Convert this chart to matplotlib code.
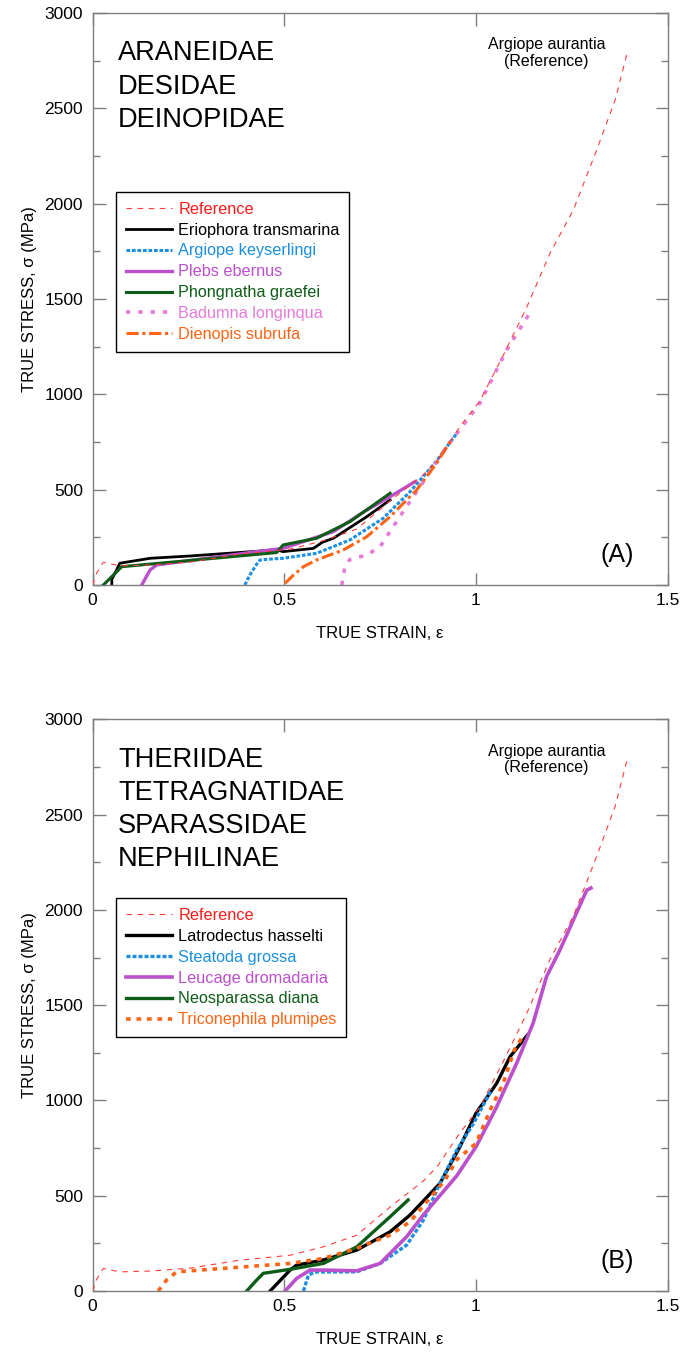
import matplotlib
matplotlib.use("Agg")
import matplotlib.pyplot as plt
from matplotlib.ticker import MultipleLocator, FixedLocator

plt.rcParams['font.family'] = ['Liberation Sans', 'DejaVu Sans']

# ---------------- data ----------------
# Reference (Argiope aurantia)
ref_x = [0.0, 0.01, 0.028, 0.06, 0.08, 0.15, 0.254, 0.384, 0.515, 0.60, 0.689, 0.776,
         0.863, 0.90, 0.958, 1.01, 1.07, 1.132, 1.193, 1.254, 1.315, 1.363, 1.396]
ref_y = [0, 60, 119, 105, 101, 105, 120, 162, 188, 231, 293, 441,
         578, 656, 830, 965, 1200, 1455, 1740, 1967, 2282, 2544, 2802]

# Panel A
erio_x = [0.05, 0.05, 0.058, 0.071, 0.15, 0.254, 0.48, 0.497, 0.576, 0.60, 0.628, 0.715, 0.776]
erio_y = [0, 30, 61, 114, 140, 152, 184, 175, 192, 225, 245, 358, 446]

akey_x = [0.397, 0.41, 0.432, 0.437, 0.457, 0.497, 0.584, 0.671, 0.758, 0.828, 0.897, 0.95]
akey_y = [0, 52, 122, 131, 135, 140, 166, 236, 350, 489, 650, 796]

plebs_x = [0.128, 0.15, 0.167, 0.463, 0.497, 0.628, 0.715, 0.776, 0.841]
plebs_y = [0, 79, 105, 184, 192, 280, 393, 463, 542]

phon_x = [0.028, 0.076, 0.48, 0.497, 0.584, 0.671, 0.776]
phon_y = [0, 96, 170, 210, 245, 332, 481]

badu_x = [0.65, 0.658, 0.671, 0.715, 0.75, 0.784, 0.819, 0.924, 1.01, 1.08, 1.132, 1.14]
badu_y = [0, 96, 134, 157, 201, 306, 411, 725, 953, 1233, 1400, 1425]

dien_x = [0.502, 0.524, 0.55, 0.584, 0.654, 0.715, 0.776, 0.845, 0.897, 0.935]
dien_y = [9, 52, 96, 131, 184, 253, 358, 498, 638, 760]

# Panel B
latro_x = [0.463, 0.515, 0.532, 0.602, 0.689, 0.776, 0.828, 0.906, 0.958, 1.0, 1.054, 1.089, 1.135]
latro_y = [0, 110, 136, 163, 215, 311, 399, 565, 757, 933, 1090, 1230, 1345]

stea_x = [0.55, 0.563, 0.58, 0.689, 0.75, 0.819, 0.863, 0.906, 0.95, 0.993, 1.041]
stea_y = [0, 84, 100, 101, 145, 241, 373, 565, 740, 877, 1058]

leuc_x = [0.502, 0.532, 0.567, 0.602, 0.689, 0.75, 0.819, 0.863, 0.95, 1.0, 1.032, 1.054, 1.106,
          1.149, 1.184, 1.219, 1.254, 1.289, 1.30]
leuc_y = [0, 66, 110, 110, 106, 145, 285, 400, 605, 757, 880, 967, 1195,
          1405, 1650, 1790, 1947, 2104, 2115]

neos_x = [0.402, 0.428, 0.445, 0.515, 0.602, 0.689, 0.776, 0.823]
neos_y = [0, 58, 93, 114, 145, 232, 390, 478]

tric_x = [0.171, 0.193, 0.219, 0.341, 0.515, 0.602, 0.689, 0.776, 0.828, 0.919, 0.95, 1.0, 1.037,
          1.071, 1.10, 1.123]
tric_y = [0, 58, 101, 119, 145, 171, 224, 294, 364, 582, 690, 775, 950,
          1090, 1265, 1340]

xticks = [0, 0.5, 1, 1.5]
xticklabels = ['0', '0.5', '1', '1.5']
yticks = [0, 500, 1000, 1500, 2000, 2500, 3000]

# ---------------- styles ----------------
RED = '#ff3b3b'
BLACK = '#000000'
BLUE = '#1a8fe3'
PURPLE = '#bb4fcc'
GREEN = '#0d5c17'
PINK = '#e57bd9'
ORANGE = '#ff6414'
GRAY = '#7f7f7f'

fig = plt.figure(figsize=(6.97, 13.56), dpi=100)
axA = fig.add_axes([0.1329, 0.5686, 0.825, 0.4218])
axB = fig.add_axes([0.1329, 0.0479, 0.825, 0.4216])


def style_axes(ax):
    ax.set_xlim(0, 1.5)
    ax.set_ylim(0, 3000)
    ax.xaxis.set_major_locator(FixedLocator(xticks))
    ax.set_xticklabels(xticklabels)
    ax.yaxis.set_major_locator(FixedLocator(yticks))
    ax.yaxis.set_minor_locator(MultipleLocator(250))
    ax.tick_params(axis='both', which='both', direction='in', top=True, right=True,
                   color=GRAY, labelsize=12.5, labelcolor='black')
    ax.tick_params(axis='y', which='major', length=9, width=1, pad=7)
    ax.tick_params(axis='y', which='minor', length=5, width=1)
    ax.tick_params(axis='x', which='major', length=9, width=1, pad=6)
    for s in ax.spines.values():
        s.set_color(GRAY)
        s.set_linewidth(1.0)
    ax.set_xlabel('TRUE STRAIN, ε', fontsize=12, labelpad=13)
    ax.set_ylabel('TRUE STRESS, σ (MPa)', fontsize=12, labelpad=5)


def ref_line(ax):
    ax.plot(ref_x, ref_y, color=RED, lw=0.8, dashes=(5, 5), label='Reference', zorder=5)
    ax.text(1.184, 2790, 'Argiope aurantia\n(Reference)', ha='center', va='center',
            fontsize=11.5, linespacing=1.1)


def add_legend(ax):
    leg = ax.legend(loc='upper left', bbox_to_anchor=(0.041, 0.687), borderaxespad=0,
                    fontsize=11.7, handlelength=2.85, handletextpad=0.37, labelspacing=0.36,
                    frameon=True, fancybox=False, framealpha=1, edgecolor='black',
                    borderpad=0.6)
    leg.get_frame().set_linewidth(1.0)
    for txt, line in zip(leg.get_texts(), leg.get_lines()):
        txt.set_color(line.get_color())
    return leg


# ---------------- panel A ----------------
style_axes(axA)
ref_line(axA)
axA.plot(erio_x, erio_y, color=BLACK, lw=2.0, label='Eriophora transmarina')
axA.plot(akey_x, akey_y, color=BLUE, lw=2.2, dashes=(1.2, 0.6), label='Argiope keyserlingi')
axA.plot(plebs_x, plebs_y, color=PURPLE, lw=2.4, label='Plebs ebernus')
axA.plot(phon_x, phon_y, color=GREEN, lw=2.2, label='Phongnatha graefei')
axA.plot(badu_x, badu_y, color=PINK, lw=2.6, dashes=(1.2, 2.2), label='Badumna longinqua')
axA.plot(dien_x, dien_y, color=ORANGE, lw=2.2, dashes=(4, 1.2, 1, 1.2), label='Dienopis subrufa')
legA = add_legend(axA)
legA.get_texts()[0].set_color('#ff1a1a')
axA.text(0.044, 0.952, 'ARANEIDAE\nDESIDAE\nDEINOPIDAE', transform=axA.transAxes,
         ha='left', va='top', fontsize=19.6, linespacing=1.36)
axA.text(1.368, 157, '(A)', ha='center', va='center', fontsize=18)

# ---------------- panel B ----------------
style_axes(axB)
ref_line(axB)
axB.plot(latro_x, latro_y, color=BLACK, lw=2.4, label='Latrodectus hasselti')
axB.plot(stea_x, stea_y, color=BLUE, lw=2.4, dashes=(1.2, 0.6), label='Steatoda grossa')
axB.plot(leuc_x, leuc_y, color=PURPLE, lw=2.6, label='Leucage dromadaria')
axB.plot(neos_x, neos_y, color=GREEN, lw=2.4, label='Neosparassa diana')
axB.plot(tric_x, tric_y, color=ORANGE, lw=2.6, dashes=(1.3, 1.6), label='Triconephila plumipes')
legB = add_legend(axB)
legB.get_texts()[0].set_color('#ff1a1a')
axB.text(0.044, 0.952, 'THERIIDAE\nTETRAGNATIDAE\nSPARASSIDAE\nNEPHILINAE',
         transform=axB.transAxes, ha='left', va='top', fontsize=19.6, linespacing=1.36)
axB.text(1.368, 157, '(B)', ha='center', va='center', fontsize=18)

fig.savefig('out.png', dpi=100)
